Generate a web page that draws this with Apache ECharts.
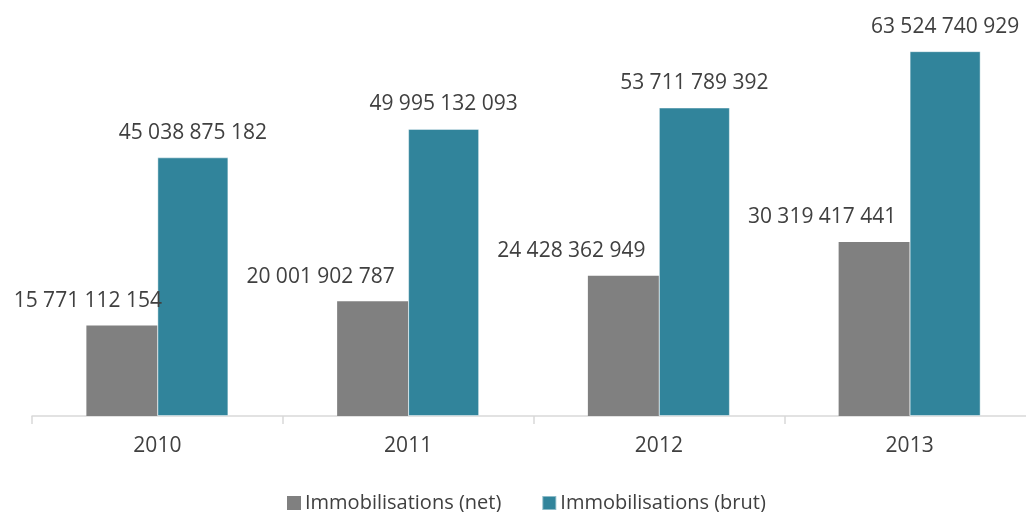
<!DOCTYPE html>
<html>
<head>
<meta charset="utf-8">
<script src="https://cdn.jsdelivr.net/npm/echarts@6/dist/echarts.min.js"></script>
<style>
    html, body {margin: 0; padding: 0; background: #fff;}
    #chart {width: 1026px; height: 512px;}
</style>
</head>
<body>
<div id="chart"></div>
<script>
var years = ['2010', '2011', '2012', '2013'];
var netValues = [15771112154, 20001902787, 24428362949, 30319417441];
var brutValues = [45038875182, 49995132093, 53711789392, 63524740929];
var seriesNames = ['Immobilisations (net)', 'Immobilisations (brut)'];

var FONT = '"Open Sans", sans-serif';
var TEXT = '#404040';

// 15 771 112 154 style
function fmt(v) {
    return String(v).replace(/\B(?=(\d{3})+(?!\d))/g, ' ');
}

var myChart = echarts.init(document.getElementById('chart'));

var labelBase = {
    show: true,
    position: 'top',
    distance: 14,
    fontFamily: FONT,
    fontSize: 21,
    lineHeight: 21,
    color: TEXT,
    formatter: function (p) { return fmt(p.value); }
};

var netData = netValues.map(function (v, i) {
    // excel pushed the net labels left so they don't hit the brut bars
    return {value: v, label: {offset: [i === 0 ? -34 : -52, 0]}};
});

var option = {
    animation: false,
    // plot area runs a bit past the right edge, like the original
    grid: {left: 32, width: 1003, top: 14, height: 402, outerBoundsMode: 'none'},
    legend: {
        top: 492,
        left: 287,
        padding: 0,
        itemWidth: 14,
        itemHeight: 14,
        itemGap: 40,
        icon: 'rect',
        textStyle: {fontFamily: FONT, fontSize: 20, lineHeight: 22, color: TEXT, padding: [0, 0, 0, -1]},
        data: seriesNames
    },
    xAxis: {
        type: 'category',
        data: years,
        axisLine: {lineStyle: {color: '#d9d9d9', width: 1.5}},
        axisTick: {show: true, length: 8, lineStyle: {color: '#d9d9d9', width: 1.5}},
        axisLabel: {fontFamily: FONT, fontSize: 21, lineHeight: 21, color: TEXT, margin: 20}
    },
    yAxis: {
        type: 'value',
        min: 0,
        max: 70000000000,
        show: false,
        splitLine: {show: false}
    },
    series: [
        {
            name: seriesNames[0],
            type: 'bar',
            barWidth: 71,
            barGap: '0%',
            itemStyle: {color: '#808080'},
            label: labelBase,
            data: netData
        },
        {
            name: seriesNames[1],
            type: 'bar',
            barWidth: 71,
            barGap: '0%',
            itemStyle: {color: '#31849b', borderColor: 'rgba(255,255,255,0.45)', borderWidth: 1},
            label: labelBase,
            data: brutValues
        }
    ]
};

myChart.setOption(option);
</script>
</body>
</html>
